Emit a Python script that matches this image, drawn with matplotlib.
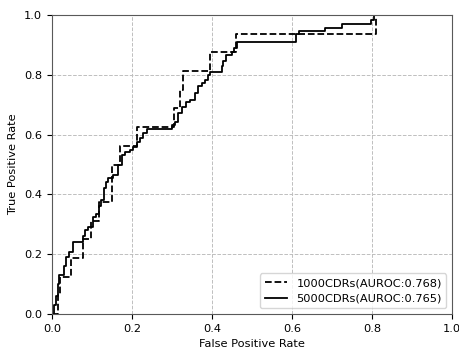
import matplotlib
matplotlib.use("Agg")
import matplotlib.pyplot as plt

# ----------------------------
# Data
# ----------------------------
fpr_1000 = [0, 0.015, 0.015, 0.02, 0.02, 0.048, 0.048, 0.078, 0.078, 0.099, 0.099,
            0.118, 0.118, 0.149, 0.149, 0.17, 0.17, 0.212, 0.212, 0.305, 0.305,
            0.32, 0.32, 0.327, 0.327, 0.395, 0.395, 0.46, 0.46, 0.81, 0.81, 1.0]
tpr_1000 = [0, 0, 0.0625, 0.0625, 0.125, 0.125, 0.1875, 0.1875, 0.25, 0.25, 0.3125,
            0.3125, 0.375, 0.375, 0.5, 0.5, 0.5625, 0.5625, 0.625, 0.625, 0.6875,
            0.6875, 0.75, 0.75, 0.8125, 0.8125, 0.875, 0.875, 0.9375, 0.9375, 1.0, 1.0]

fpr_5000 = [0, 0.005, 0.01, 0.015, 0.019, 0.027, 0.03, 0.036, 0.044, 0.052, 0.073,
            0.078, 0.082, 0.09, 0.1, 0.103, 0.11, 0.117, 0.124, 0.13, 0.135, 0.141,
            0.15, 0.153, 0.162, 0.166, 0.174, 0.182, 0.195, 0.203, 0.212, 0.22,
            0.228, 0.237, 0.291, 0.299, 0.3075, 0.316, 0.324, 0.335, 0.345, 0.3575,
            0.366, 0.374, 0.3825, 0.391, 0.395, 0.42, 0.424, 0.428, 0.435, 0.45,
            0.455, 0.462, 0.61, 0.61, 0.618, 0.682, 0.682, 0.724, 0.724, 0.797,
            0.797, 0.805, 0.805, 1.0]
tpr_5000 = [0, 0.03, 0.06, 0.1, 0.13, 0.13, 0.16, 0.19, 0.208, 0.24, 0.24,
            0.26, 0.28, 0.29, 0.29, 0.325, 0.335, 0.36, 0.38, 0.42, 0.44, 0.454,
            0.454, 0.465, 0.465, 0.498, 0.532, 0.543, 0.55, 0.56, 0.575, 0.59,
            0.605, 0.62, 0.62, 0.632, 0.643, 0.671, 0.693, 0.71, 0.716, 0.739,
            0.761, 0.772, 0.783, 0.8, 0.81, 0.81, 0.829, 0.845, 0.865, 0.875,
            0.89, 0.91, 0.91, 0.935, 0.948, 0.948, 0.958, 0.958, 0.97, 0.97,
            0.985, 0.985, 1.0, 1.0]

label_1000 = "1000CDRs(AUROC:0.768)"
label_5000 = "5000CDRs(AUROC:0.765)"

# ----------------------------
# Plot
# ----------------------------
plt.rcParams["font.size"] = 8.2
fig = plt.figure(figsize=(4.59, 3.5), dpi=100)
ax = fig.add_axes([0.113, 0.103, 0.872, 0.854])

ax.plot(fpr_1000, tpr_1000, "k--", lw=1.3, label=label_1000)
ax.plot(fpr_5000, tpr_5000, "k-", lw=1.3, drawstyle="steps-post", label=label_5000)

ax.set_xlim(0, 1)
ax.set_ylim(0, 1)
ax.set_xticks([0, 0.2, 0.4, 0.6, 0.8, 1.0])
ax.set_yticks([0, 0.2, 0.4, 0.6, 0.8, 1.0])
ax.set_xlabel("False Positive Rate")
ax.set_ylabel("True Positive Rate")
ax.grid(True, ls="--", color="0.75", lw=0.7)
for s in ax.spines.values():
    s.set_color("0.35")
ax.legend(loc="lower right", fontsize=8.2)

fig.savefig("out.png", dpi=100)
